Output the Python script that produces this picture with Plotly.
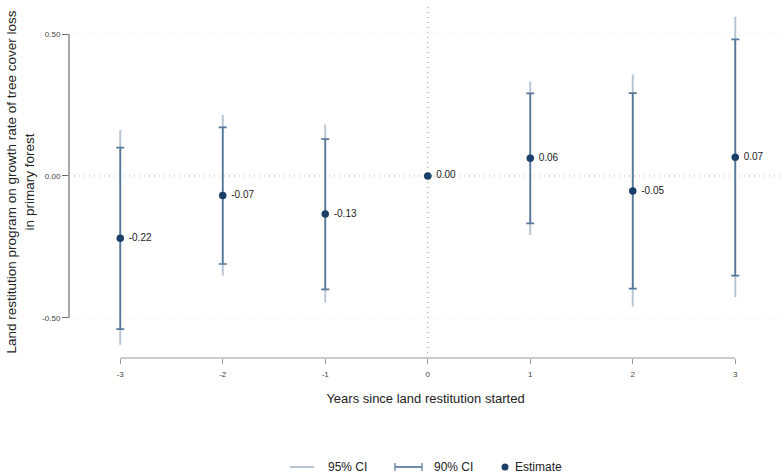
import plotly.graph_objects as go

# Event-study estimates with confidence intervals
years = [-3, -2, -1, 0, 1, 2, 3]
estimate = [-0.219, -0.069, -0.134, 0.0, 0.062, -0.053, 0.066]
ci95_low = [-0.595, -0.351, -0.446, 0.0, -0.208, -0.460, -0.427]
ci95_high = [0.162, 0.215, 0.181, 0.0, 0.332, 0.358, 0.561]
ci90_low = [-0.539, -0.310, -0.399, 0.0, -0.167, -0.397, -0.351]
ci90_high = [0.100, 0.171, 0.130, 0.0, 0.291, 0.292, 0.481]

y_ticks = [-0.5, 0.0, 0.5]
y_tick_labels = ["-0.50", "0.00", "0.50"]
x_ticks = years
x_tick_labels = [str(v) for v in years]
legend_names = ["95% CI", "90% CI", "Estimate"]

FONT = "Liberation Sans, Arial, sans-serif"
C95 = "#b8c6d4"
C90 = "#56799b"
CEST = "#1a3f69"

W, H = 782, 475
ML, MR, MT, MB = 69, 0, 6, 117
PW, PH = W - ML - MR, H - MT - MB


def px_x(px):
    """Pixel column -> paper x."""
    return (px - ML) / PW


def px_y(py):
    """Pixel row -> paper y."""
    return (H - MB - py) / PH


labels = [f"{v:.2f}" for v in estimate]

fig = go.Figure()

# 95% CI: plain light whiskers
fig.add_trace(go.Scatter(
    x=years, y=estimate, mode="markers",
    marker=dict(size=1, color="rgba(0,0,0,0)"),
    error_y=dict(type="data", symmetric=False,
                 array=[h - e for h, e in zip(ci95_high, estimate)],
                 arrayminus=[e - l for e, l in zip(estimate, ci95_low)],
                 color=C95, thickness=2, width=0),
    showlegend=False, hoverinfo="skip",
))

# 90% CI with caps, plus point estimates and their labels
fig.add_trace(go.Scatter(
    x=years, y=estimate, mode="markers+text",
    marker=dict(size=7.5, color=CEST),
    text=[" " + t for t in labels], textposition="middle right",
    textfont=dict(family=FONT, size=10, color="#222222"),
    error_y=dict(type="data", symmetric=False,
                 array=[h - e for h, e in zip(ci90_high, estimate)],
                 arrayminus=[e - l for e, l in zip(estimate, ci90_low)],
                 color=C90, thickness=1.7, width=4),
    showlegend=False,
))

shapes = []
# faint dotted gridlines away from zero
for t in y_ticks:
    if t != 0:
        shapes.append(dict(type="line", xref="paper", x0=0, x1=1, yref="y",
                           y0=t, y1=t, layer="below",
                           line=dict(color="#e4e4e4", width=1, dash="1px,4px")))
shapes += [
    # zero reference line
    dict(type="line", xref="paper", x0=0, x1=1, yref="y", y0=0, y1=0,
         line=dict(color="#f09a9a", width=1, dash="1px,4px"), layer="below"),
    # treatment start
    dict(type="line", xref="x", x0=0, x1=0, yref="paper", y0=0, y1=1,
         line=dict(color="#9a9a9a", width=1, dash="1px,4px"), layer="below"),
    # axis lines spanning the tick range
    dict(type="line", xref="paper", x0=0, x1=0, yref="y",
         y0=min(y_ticks), y1=max(y_ticks),
         line=dict(color="#6e6e6e", width=1.2)),
    dict(type="line", xref="x", x0=min(x_ticks), x1=max(x_ticks),
         yref="paper", y0=0, y1=0,
         line=dict(color="#9a9a9a", width=1.2)),
]

# Legend row drawn below the axis title
ly = px_y(467)
shapes += [
    dict(type="line", xref="paper", yref="paper", x0=px_x(290), x1=px_x(314),
         y0=ly, y1=ly, line=dict(color=C95, width=2)),
    dict(type="line", xref="paper", yref="paper", x0=px_x(395), x1=px_x(422),
         y0=ly, y1=ly, line=dict(color=C90, width=1.7)),
    dict(type="line", xref="paper", yref="paper", x0=px_x(395), x1=px_x(395),
         y0=px_y(463), y1=px_y(471), line=dict(color=C90, width=1.2)),
    dict(type="line", xref="paper", yref="paper", x0=px_x(422), x1=px_x(422),
         y0=px_y(463), y1=px_y(471), line=dict(color=C90, width=1.2)),
    dict(type="circle", xref="paper", yref="paper",
         x0=px_x(501.5), x1=px_x(508.5), y0=px_y(470.5), y1=px_y(463.5),
         fillcolor=CEST, line=dict(color=CEST, width=0)),
]
annotations = [
    dict(xref="paper", yref="paper", x=px_x(x0), y=ly, xanchor="left",
         yanchor="middle", text=name, showarrow=False,
         font=dict(family=FONT, size=12, color="#222222"))
    for x0, name in zip([326, 432, 513], legend_names)
]

fig.update_layout(
    width=W, height=H,
    margin=dict(l=ML, r=MR, t=MT, b=MB),
    plot_bgcolor="white", paper_bgcolor="white",
    font=dict(family=FONT, color="#222222"),
    shapes=shapes, annotations=annotations, showlegend=False,
    xaxis=dict(
        range=[-3.5, 3.456], tickvals=x_ticks, ticktext=x_tick_labels,
        showgrid=False, zeroline=False, showline=False,
        ticks="outside", ticklen=5, tickcolor="#9a9a9a", tickwidth=1,
        ticklabelstandoff=3,
        tickfont=dict(size=8, color="#444444"),
        title=dict(text="Years since land restitution started",
                   font=dict(size=13, color="#222222"), standoff=16),
    ),
    yaxis=dict(
        range=[-0.641, 0.5986], tickvals=y_ticks, ticktext=y_tick_labels,
        showgrid=False, zeroline=False, showline=False,
        ticks="outside", ticklen=6, tickcolor="#6e6e6e", tickwidth=1,
        tickfont=dict(size=8, color="#444444"),
        title=dict(text="Land restitution program on growth rate of tree cover loss<br>in primary forest",
                   font=dict(size=13.5, color="#222222"), standoff=4),
    ),
)

fig.write_html("out.html")
